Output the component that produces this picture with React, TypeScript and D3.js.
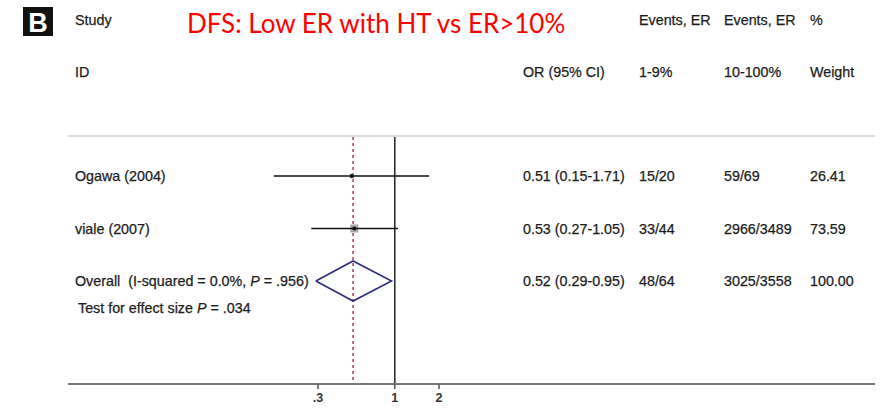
import React from "react";
import * as d3 from "d3";

const studies = ["Ogawa (2004)", "viale (2007)"];
const orValues = [0.51, 0.53];
const ciLow = [0.15, 0.27];
const ciHigh = [1.71, 1.05];
const orLabels = ["0.51 (0.15-1.71)", "0.53 (0.27-1.05)"];
const eventsLow = ["15/20", "33/44"];
const eventsHigh = ["59/69", "2966/3489"];
const weights = [26.41, 73.59];

const overallOR = 0.52;
const overallLow = 0.29;
const overallHigh = 0.95;
const overallLabel = "0.52 (0.29-0.95)";
const overallEventsLow = "48/64";
const overallEventsHigh = "3025/3558";
const overallWeight = "100.00";

const tickValues = [0.3, 1, 2];
const tickLabels = [".3", "1", "2"];

const W = 892;
const H = 408;
const FONT = "'Liberation Sans', Arial, sans-serif";
const TXT = "#1c1c1c";

export default function App() {
  const x = d3.scaleLog().domain([0.3, 2]).range([318, 439]);
  const rowY = d3.scaleLinear().domain([0, 1]).range([176, 228.5]);
  const overallY = rowY(2);
  const topY = 136;
  const axisY = 384;
  const boxSize = d3.scaleSqrt().domain([0, 73.59]).range([0, 8]);

  const colStudy = 75;
  const colOR = 523;
  const colE1 = 639;
  const colE2 = 724;
  const colW = 810;
  const fs = 14.3;

  const diamond = d3.line()([
    [x(overallLow), overallY],
    [x(overallOR), overallY - 20],
    [x(overallHigh), overallY],
    [x(overallOR), overallY + 20],
    [x(overallLow), overallY],
  ] as [number, number][]);

  const textStyle = { stroke: TXT, strokeWidth: 0.25 };

  return (
    <svg
      width={W}
      height={H}
      style={{ position: "absolute", left: 0, top: 0, background: "#fff" }}
      fontFamily={FONT}
    >
      {/* Panel letter */}
      <rect x={23} y={7} width={30} height={29} fill="#111" />
      <text x={38} y={31.5} textAnchor="middle" fontSize={27} fontWeight="bold" fill="#fff" fontFamily={FONT}>B</text>

      {/* Title */}
      <text x={187} y={33} fontSize={26} fill="#ff0000" fontFamily="Lato, 'Open Sans', sans-serif">
        DFS: Low ER with HT vs ER&gt;10%
      </text>

      {/* Headers */}
      <g fontSize={fs} fill={TXT} style={textStyle}>
        <text x={colStudy} y={25}>Study</text>
        <text x={colStudy} y={77}>ID</text>
        <text x={colE1} y={25}>Events, ER</text>
        <text x={colE2} y={25}>Events, ER</text>
        <text x={colW} y={25}>%</text>
        <text x={colOR} y={77}>OR (95% CI)</text>
        <text x={colE1} y={77}>1-9%</text>
        <text x={colE2} y={77}>10-100%</text>
        <text x={colW} y={77}>Weight</text>
      </g>

      {/* top divider */}
      <line x1={68} x2={875} y1={topY} y2={topY} stroke="#cfcfcf" strokeWidth={1.5} />

      {/* null line */}
      <line x1={x(1)} x2={x(1)} y1={topY + 1} y2={axisY} stroke="#222" strokeWidth={1.5} />

      {/* overall dashed line */}
      <line
        x1={x(overallOR)}
        x2={x(overallOR)}
        y1={topY + 1}
        y2={axisY}
        stroke="#a8505e"
        strokeWidth={1.6}
        strokeDasharray="3,3"
      />

      {/* studies */}
      {studies.map((s, i) => {
        const y = rowY(i);
        const b = boxSize(weights[i]);
        return (
          <g key={s}>
            <rect x={x(orValues[i]) - b / 2} y={y - b / 2} width={b} height={b} fill="#a8a8a8" />
            <line x1={x(ciLow[i])} x2={x(ciHigh[i])} y1={y} y2={y} stroke="#111" strokeWidth={1.5} />
            <circle cx={x(orValues[i])} cy={y} r={2} fill="#111" />
            <g fontSize={fs} fill={TXT} style={textStyle}>
              <text x={colStudy} y={y + 5}>{s}</text>
              <text x={colOR} y={y + 5}>{orLabels[i]}</text>
              <text x={colE1} y={y + 5}>{eventsLow[i]}</text>
              <text x={colE2} y={y + 5}>{eventsHigh[i]}</text>
              <text x={colW} y={y + 5}>{weights[i].toFixed(2)}</text>
            </g>
          </g>
        );
      })}

      {/* overall */}
      <path d={diamond ?? ""} fill="none" stroke="#2e2e7e" strokeWidth={1.6} />
      <g fontSize={fs} fill={TXT} style={textStyle}>
        <text x={colStudy} y={overallY + 5}>
          {"Overall\u00a0\u00a0(I-squared = 0.0%, "}<tspan fontStyle="italic">P</tspan>{" = .956)"}
        </text>
        <text x={colStudy + 3} y={overallY + 32}>
          {"Test for effect size "}<tspan fontStyle="italic">P</tspan>{" = .034"}
        </text>
        <text x={colOR} y={overallY + 5}>{overallLabel}</text>
        <text x={colE1} y={overallY + 5}>{overallEventsLow}</text>
        <text x={colE2} y={overallY + 5}>{overallEventsHigh}</text>
        <text x={colW} y={overallY + 5}>{overallWeight}</text>
      </g>

      {/* axis */}
      <line x1={68} x2={875} y1={axisY} y2={axisY} stroke="#777" strokeWidth={2.2} />
      {tickValues.map((t, i) => (
        <g key={t}>
          <line x1={x(t)} x2={x(t)} y1={axisY} y2={axisY + 5} stroke="#555" strokeWidth={1.5} />
          <text x={x(t)} y={axisY + 18} textAnchor="middle" fontSize={12.5} fontWeight="bold" fill="#333">
            {tickLabels[i]}
          </text>
        </g>
      ))}
    </svg>
  );
}
